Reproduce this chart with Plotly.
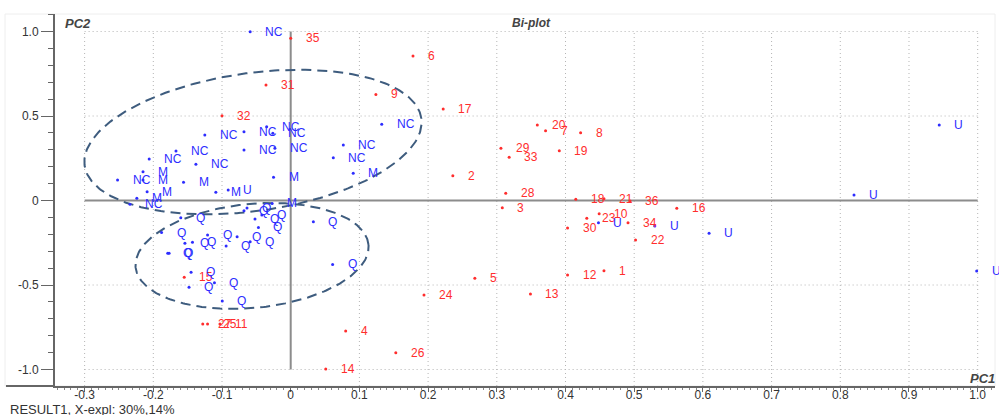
import numpy as np
import plotly.graph_objects as go

# ---------------- data ----------------
var_labels = [str(i) for i in range(1, 37)]
var_pc1 = [0.456, 0.236, 0.308, 0.080, 0.268, 0.178, 0.371, 0.422, 0.124, 0.449,
           -0.103, 0.403, 0.349, 0.051, -0.155, 0.562, 0.222, 0.415, 0.391, 0.359,
           0.456, 0.502, 0.431, 0.194, -0.121, 0.153, -0.128, 0.313, 0.306, 0.403,
           -0.036, -0.100, 0.318, 0.491, 0.000, 0.494]
var_pc2 = [-0.415, 0.147, -0.043, -0.772, -0.460, 0.855, 0.413, 0.401, 0.628, -0.078,
           -0.731, -0.441, -0.553, -0.997, -0.454, -0.046, 0.541, 0.007, 0.295, 0.447,
           0.010, -0.234, -0.105, -0.559, -0.731, -0.901, -0.731, 0.043, 0.309, -0.163,
           0.683, 0.502, 0.256, -0.131, 0.960, -0.003]

sample_labels = (["NC"] * 15 + ["M"] * 9 + ["U"] * 7 + ["Q"] * 21)
sample_pc1 = [-0.059, 0.1325, 0.0766, 0.062, -0.035, -0.026, -0.023, -0.068, -0.068, -0.125,
              -0.167, -0.206, -0.138, -0.252, -0.234,
              0.091, -0.215, -0.215, -0.209, -0.224, -0.156, -0.109, -0.025, -0.027,
              -0.091, 0.448, 0.530, 0.609, 0.820, 0.944, 0.9985,
              -0.160, -0.188, -0.154, -0.143, -0.121, -0.094, -0.078, -0.059, -0.052, -0.042,
              -0.047, -0.068, -0.0636, 0.033, 0.061, -0.179, -0.177, -0.145, -0.148, -0.111,
              -0.0996]
sample_pc2 = [0.999, 0.451, 0.328, 0.253, 0.437, 0.398, 0.309, 0.407, 0.299, 0.388,
              0.293, 0.246, 0.214, 0.121, -0.022,
              0.161, 0.170, 0.121, 0.052, 0.013, 0.108, 0.049, 0.137, -0.017,
              0.062, -0.131, -0.151, -0.194, 0.033, 0.447, -0.417,
              -0.102, -0.190, -0.253, -0.247, -0.204, -0.269, -0.214, -0.244, -0.109, -0.086,
              -0.159, -0.060, -0.044, -0.126, -0.378, -0.312, -0.312, -0.425, -0.514, -0.486,
              -0.595]

x_ticks = [-0.3, -0.2, -0.1, 0, 0.1, 0.2, 0.3, 0.4, 0.5, 0.6, 0.7, 0.8, 0.9, 1.0]
x_ticktext = ["-0.3", "-0.2", "-0.1", "0", "0.1", "0.2", "0.3", "0.4", "0.5", "0.6",
              "0.7", "0.8", "0.9", "1.0"]
y_ticks = [-1.0, -0.5, 0, 0.5, 1.0]
y_ticktext = ["-1.0", "-0.5", "0", "0.5", "1.0"]

# ellipse outlines: centre (PC1, PC2), semi-axes (px), tilt (deg)
ellipse_centers = [(-0.0549, 0.346), (-0.0563, -0.328)]
ellipse_axes_px = [(170, 69), (117, 52)]
ellipse_tilt = [8.0, 5.5]

# ---------------- layout constants ----------------
W, H = 999, 415
ML, MR, MT, MB = 55, 4, 14, 29
XR = [-0.3431, 1.0252]
YR = [-1.0976, 1.1036]
px_per_x = (W - ML - MR) / (XR[1] - XR[0])
px_per_y = (H - MT - MB) / (YR[1] - YR[0])

RED = "rgb(255,45,45)"
BLUE = "rgb(45,45,255)"
FONT = "Liberation Sans, Arial, sans-serif"

fig = go.Figure()

# ellipses
for (cx, cy), (a, b), th in zip(ellipse_centers, ellipse_axes_px, ellipse_tilt):
    t = np.linspace(0, 2 * np.pi, 300)
    r = np.deg2rad(th)
    dx = a * np.cos(t) * np.cos(r) - b * np.sin(t) * np.sin(r)
    dy = a * np.cos(t) * np.sin(r) + b * np.sin(t) * np.cos(r)
    fig.add_trace(go.Scatter(x=cx + dx / px_per_x, y=cy + dy / px_per_y, mode="lines",
                             line=dict(color="#3e5c7e", width=2, dash="10px,6px"),
                             hoverinfo="skip"))

fig.add_trace(go.Scatter(x=var_pc1, y=var_pc2, mode="markers",
                         marker=dict(size=3, color=RED), hoverinfo="skip"))
fig.add_trace(go.Scatter(x=sample_pc1, y=sample_pc2, mode="markers",
                         marker=dict(size=3, color=BLUE), hoverinfo="skip"))

ann = []
for x, y, t in zip(var_pc1, var_pc2, var_labels):
    ann.append(dict(x=x, y=y, text=t, xanchor="left", yanchor="middle", xshift=13,
                    showarrow=False, font=dict(family=FONT, size=12, color=RED)))
for x, y, t in zip(sample_pc1, sample_pc2, sample_labels):
    ann.append(dict(x=x, y=y, text=t, xanchor="left", yanchor="middle", xshift=13,
                    showarrow=False, font=dict(family=FONT, size=12, color=BLUE)))

def px_to_paper_x(px):
    return (px - ML) / (W - ML - MR)

def px_to_paper_y(py):
    return (H - MB - py) / (H - MT - MB)

ann += [
    dict(xref="paper", yref="paper", x=px_to_paper_x(63), y=px_to_paper_y(24), text="<b><i>PC2</i></b>",
         xanchor="left", yanchor="middle", showarrow=False, font=dict(family=FONT, size=13, color="#444")),
    dict(xref="paper", yref="paper", x=px_to_paper_x(531), y=px_to_paper_y(23), text="<b><i>Bi-plot</i></b>",
         xanchor="center", yanchor="middle", showarrow=False, font=dict(family=FONT, size=12, color="#444")),
    dict(xref="paper", yref="paper", x=px_to_paper_x(997), y=px_to_paper_y(378), text="<b><i>PC1</i></b>",
         xanchor="right", yanchor="middle", showarrow=False, font=dict(family=FONT, size=13, color="#444")),
    dict(xref="paper", yref="paper", x=px_to_paper_x(8), y=px_to_paper_y(409), text="RESULT1, X-expl: 30%,14%",
         xanchor="left", yanchor="middle", showarrow=False, font=dict(family=FONT, size=13, color="#333")),
]

shapes = []
grid = dict(color="#b5b5b5", width=1, dash="1px,3px")
for xv in x_ticks:
    if xv == 0:
        continue
    shapes.append(dict(type="line", x0=xv, x1=xv, y0=YR[0], y1=1.0, xref="x", yref="y",
                       line=grid, layer="below"))
for yv in y_ticks:
    if yv == 0:
        continue
    shapes.append(dict(type="line", x0=x_ticks[0], x1=x_ticks[-1], y0=yv, y1=yv, xref="x", yref="y",
                       line=grid, layer="below"))
shapes.append(dict(type="line", x0=x_ticks[0], x1=x_ticks[-1], y0=0, y1=0, xref="x", yref="y",
                   line=dict(color="#8c8c8c", width=2), layer="below"))
shapes.append(dict(type="line", x0=0, x1=0, y0=-1.0, y1=1.0, xref="x", yref="y",
                   line=dict(color="#8c8c8c", width=2), layer="below"))
# faint frame and extended x axis line
shapes.append(dict(type="rect", xref="paper", yref="paper", x0=px_to_paper_x(5), x1=1, y0=0, y1=1,
                   line=dict(color="#eeeeee", width=1), layer="below"))
shapes.append(dict(type="line", xref="paper", yref="paper", x0=px_to_paper_x(6), x1=0, y0=0, y1=0,
                   line=dict(color="#666666", width=2)))

fig.update_layout(
    width=W, height=H, margin=dict(l=ML, r=MR, t=MT, b=MB),
    plot_bgcolor="white", paper_bgcolor="white", showlegend=False,
    annotations=ann, shapes=shapes,
    xaxis=dict(range=XR, showgrid=False, zeroline=False, showline=True, linecolor="#666666",
               linewidth=2, ticks="outside", ticklen=4, tickcolor="#666666",
               tickvals=x_ticks, ticktext=x_ticktext, automargin=False, ticklabelstandoff=-7,
               tickfont=dict(family=FONT, size=12, color="#333"),
               minor=dict(dtick=0.01, tick0=0, ticks="outside", ticklen=2, tickcolor="#888888")),
    yaxis=dict(range=YR, showgrid=False, zeroline=False, showline=True, linecolor="#666666",
               linewidth=2, ticks="outside", ticklen=12, tickcolor="#666666",
               tickvals=y_ticks, ticktext=y_ticktext, automargin=False,
               tickfont=dict(family=FONT, size=12, color="#333"),
               minor=dict(dtick=0.1, tick0=0, ticks="outside", ticklen=5, tickcolor="#666666")),
)

fig.write_html("out.html", config={"displayModeBar": False},
               post_script="document.body.style.margin='0';document.body.style.overflow='hidden';")
